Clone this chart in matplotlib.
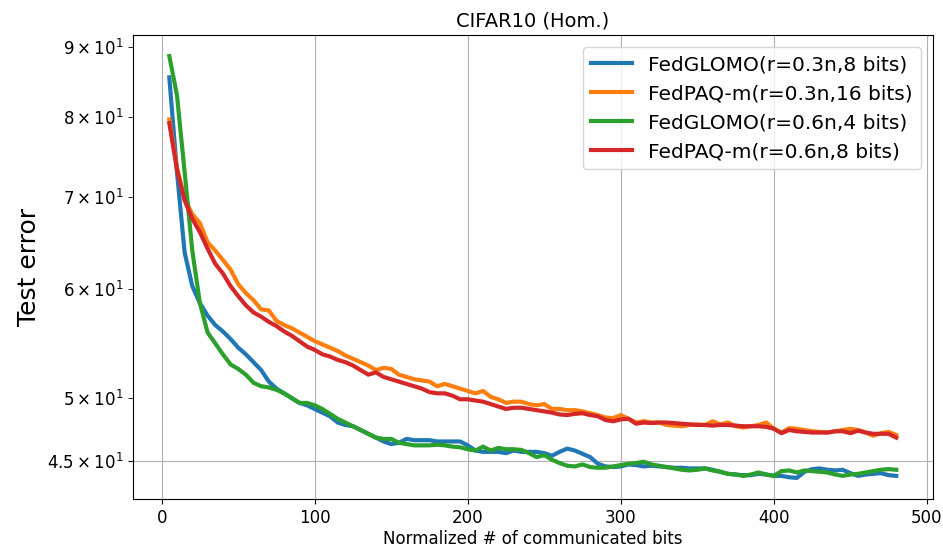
import numpy as np
import matplotlib
matplotlib.use('Agg')
import matplotlib.pyplot as plt
from matplotlib.ticker import FixedLocator, FixedFormatter

bits = np.arange(5, 481, 5)

glomo_03_8 = [
    85.5, 73.0, 63.8, 60.3, 58.6, 57.4, 56.5, 55.9, 55.2, 54.4,
    53.8, 53.1, 52.4, 51.4, 50.8, 50.4, 50.0, 49.6, 49.4, 49.1,
    48.8, 48.5, 48.0, 47.8, 47.7, 47.4, 47.1, 46.8, 46.5, 46.3,
    46.4, 46.7, 46.6, 46.6, 46.6, 46.5, 46.5, 46.5, 46.5, 46.2,
    45.8, 45.7, 45.7, 45.7, 45.6, 45.8, 45.7, 45.7, 45.7, 45.6,
    45.4, 45.7, 45.95, 45.8, 45.55, 45.3, 44.8, 44.6, 44.55, 44.6,
    44.75, 44.7, 44.6, 44.65, 44.6, 44.55, 44.5, 44.5, 44.45, 44.45,
    44.45, 44.35, 44.2, 44.05, 44.0, 43.95, 43.95, 44.05, 44.0, 43.9,
    43.9, 43.8, 43.75, 44.2, 44.4, 44.45, 44.35, 44.3, 44.35, 44.1,
    43.9, 44.0, 44.05, 44.1, 43.95, 43.9,
]

paq_03_16 = [
    79.7, 73.5, 69.8, 68.0, 67.0, 64.9, 64.0, 63.0, 62.0, 60.5,
    59.6, 58.9, 58.0, 57.9, 56.9, 56.5, 56.2, 55.8, 55.4, 55.0,
    54.7, 54.4, 54.1, 53.7, 53.4, 53.1, 52.8, 52.4, 52.6, 52.5,
    52.0, 51.8, 51.6, 51.5, 51.4, 51.0, 51.2, 51.0, 50.8, 50.6,
    50.4, 50.6, 50.1, 49.9, 49.6, 49.7, 49.7, 49.5, 49.4, 49.5,
    49.1, 49.1, 49.0, 49.0, 48.9, 48.75, 48.6, 48.4, 48.35, 48.6,
    48.3, 48.0, 48.1, 48.0, 48.0, 47.8, 47.75, 47.7, 47.8, 47.85,
    47.8, 48.1, 47.85, 48.0, 47.7, 47.6, 47.7, 47.8, 48.0, 47.5,
    47.2, 47.55, 47.5, 47.4, 47.3, 47.25, 47.2, 47.3, 47.4, 47.5,
    47.4, 47.2, 46.95, 47.15, 47.25, 47.0,
]

glomo_06_4 = [
    88.6, 83.0, 73.0, 64.0, 58.6, 55.8, 54.8, 53.8, 52.9, 52.5,
    52.0, 51.3, 51.0, 50.9, 50.7, 50.4, 50.0, 49.6, 49.6, 49.4,
    49.1, 48.7, 48.3, 48.0, 47.7, 47.4, 47.1, 46.8, 46.7, 46.7,
    46.4, 46.3, 46.2, 46.2, 46.2, 46.25, 46.2, 46.1, 46.05, 45.9,
    45.8, 46.1, 45.8, 46.0, 45.9, 45.9, 45.85, 45.6, 45.3, 45.45,
    45.1, 44.85, 44.65, 44.6, 44.75, 44.55, 44.5, 44.5, 44.6, 44.7,
    44.8, 44.85, 44.95, 44.75, 44.65, 44.55, 44.45, 44.35, 44.3, 44.35,
    44.45, 44.3, 44.2, 44.05, 44.0, 43.9, 44.0, 44.15, 44.0, 43.9,
    44.25, 44.3, 44.15, 44.3, 44.25, 44.2, 44.15, 44.0, 43.9, 44.0,
    44.05, 44.15, 44.25, 44.35, 44.4, 44.35,
]

paq_06_8 = [
    79.2, 73.3, 69.6, 67.5, 66.0, 64.2, 62.6, 61.6, 60.3, 59.3,
    58.4, 57.7, 57.3, 56.8, 56.4, 55.9, 55.5, 55.0, 54.5, 54.2,
    53.8, 53.6, 53.3, 53.1, 52.8, 52.4, 52.0, 52.2, 51.8, 51.6,
    51.4, 51.2, 51.0, 50.8, 50.5, 50.4, 50.4, 50.2, 49.9, 49.9,
    49.8, 49.7, 49.5, 49.3, 49.1, 49.2, 49.2, 49.1, 49.0, 48.9,
    48.8, 48.65, 48.6, 48.7, 48.75, 48.6, 48.5, 48.2, 48.1, 48.25,
    48.3, 47.9, 48.0, 47.95, 48.0, 48.0, 47.95, 47.9, 47.85, 47.8,
    47.8, 47.75, 47.8, 47.8, 47.75, 47.7, 47.7, 47.7, 47.65, 47.5,
    47.15, 47.4, 47.3, 47.25, 47.2, 47.2, 47.2, 47.3, 47.3, 47.15,
    47.35, 47.2, 47.1, 47.1, 47.1, 46.8,
]

labels = ['FedGLOMO(r=0.3n,8 bits)', 'FedPAQ-m(r=0.3n,16 bits)',
          'FedGLOMO(r=0.6n,4 bits)', 'FedPAQ-m(r=0.6n,8 bits)']
colors = ['#1f77b4', '#ff7f0e', '#2ca02c', '#d62728']

fig = plt.figure(figsize=(9.43, 5.52), dpi=100)
ax = fig.add_axes([0.141, 0.096, 0.848, 0.8406])

for y, lab, c in zip([glomo_03_8, paq_03_16, glomo_06_4, paq_06_8], labels, colors):
    ax.plot(bits, y, color=c, lw=3, label=lab)

ax.set_yscale('log')
ax.yaxis.set_major_locator(FixedLocator([45]))
ax.yaxis.set_major_formatter(FixedFormatter([r'$\mathdefault{4.5\times10^{1}}$']))
ax.yaxis.set_minor_locator(FixedLocator([50, 60, 70, 80, 90]))
ax.yaxis.set_minor_formatter(FixedFormatter([r'$\mathdefault{%d\times10^{1}}$' % k
                                             for k in (5, 6, 7, 8, 9)]))
ax.tick_params(axis='both', which='both', labelsize=12, length=3.5)
ax.set_xticks([0, 100, 200, 300, 400, 500])
ax.grid(True, which='major', color='#b0b0b0', lw=0.8)

ax.set_title('CIFAR10 (Hom.)', fontsize=14)
ax.set_xlabel('Normalized # of communicated bits', fontsize=12, labelpad=2)
ax.set_ylabel('Test error', fontsize=18)
ax.legend(loc='upper right', fontsize=14.5, handlelength=2, borderaxespad=0.6)

fig.savefig('out.png', dpi=100)
